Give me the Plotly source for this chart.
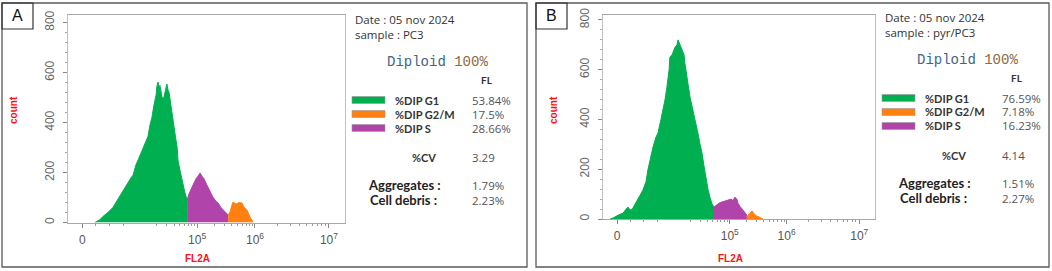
import math
import plotly.graph_objects as go

W, H = 1052, 271

# ---------------- data ----------------
# x in instrument channel units (0..1000 across the plot), y = count
A_G1_ch = [97, 116, 126, 144, 162, 181, 199, 217, 227, 235, 245, 253, 260, 271, 282, 289, 296, 303, 310, 318, 321, 325, 329, 332, 339, 343, 347, 354, 357, 361, 365, 372, 379, 386, 394, 397, 404, 412, 415, 422, 430]
A_G1_cnt = [0, 12, 24, 40, 60, 95, 128, 165, 178, 190, 230, 250, 268, 300, 325, 345, 390, 420, 468, 510, 545, 562, 540, 548, 505, 490, 505, 535, 554, 530, 520, 465, 420, 358, 300, 250, 210, 170, 150, 120, 90]
A_S_ch = [430, 437, 448, 455, 462, 469, 477, 484, 491, 498, 505, 513, 523, 534, 542, 552, 560, 570, 578]
A_S_cnt = [90, 115, 142, 160, 175, 185, 198, 185, 175, 158, 142, 120, 102, 85, 78, 60, 50, 38, 30]
A_G2_ch = [578, 585, 592, 596, 603, 610, 617, 628, 635, 646, 657, 668]
A_G2_cnt = [30, 42, 70, 82, 76, 74, 80, 78, 62, 50, 22, 2]

B_G1_ch = [26, 37, 55, 74, 85, 92, 99, 107, 118, 125, 136, 147, 158, 165, 173, 184, 195, 202, 213, 221, 228, 235, 243, 246, 254, 265, 272, 276, 283, 290, 298, 301, 309, 312, 320, 331, 342, 349, 357, 364, 371, 375, 386, 393, 401, 408]
B_G1_cnt = [0, 4, 15, 24, 40, 48, 36, 38, 60, 76, 95, 117, 150, 197, 240, 290, 330, 345, 400, 438, 480, 530, 600, 651, 660, 691, 700, 720, 700, 680, 660, 627, 580, 547, 490, 438, 390, 345, 300, 265, 215, 185, 120, 88, 60, 48]
B_S_ch = [408, 419, 430, 437, 449, 460, 471, 478, 485, 493, 496, 504, 515, 522, 529]
B_S_cnt = [48, 58, 66, 68, 72, 76, 80, 74, 88, 78, 64, 50, 36, 24, 16]
B_G2_ch = [529, 537, 544, 548, 555, 562, 570, 577, 588]
B_G2_cnt = [10, 20, 30, 32, 22, 14, 10, 6, 0]

x_tick_vals = [52, 466, 675, 942]
x_tick_text = ["0", "10<sup>5</sup>", "10<sup>6</sup>", "10<sup>7</sup>"]
y_tick_vals = [0, 200, 400, 600, 800]

phase_labels = ["%DIP G1", "%DIP G2/M", "%DIP S"]
A_phase_vals = ["53.84%", "17.5%", "28.66%"]
B_phase_vals = ["76.59%", "7.18%", "16.23%"]
A_cv, B_cv = "3.29", "4.14"
A_aggr, A_debris = "1.79%", "2.23%"
B_aggr, B_debris = "1.51%", "2.27%"
A_sample, B_sample = "PC3", "pyr/PC3"

GREEN = "#00b050"
ORANGE = "#ff8010"
PURPLE = "#b044aa"

# ---------------- helpers ----------------
def px(x):
    return x / W

def py(y):
    return 1 - y / H

# minor ticks (log-like)
minor_vals = []
for k in range(2, 10):
    minor_vals.append(257 + (466 - 257) * math.log10(k))
    minor_vals.append(466 + (675 - 466) * math.log10(k))
    minor_vals.append(675 + (942 - 675) * math.log10(k))
minor_vals += [100, 150, 200]

fig = go.Figure()

def add_hist(xs, ys, color, xa, ya):
    fig.add_trace(go.Scatter(x=xs, y=ys, mode="lines", fill="tozeroy",
                             fillcolor=color, line=dict(color=color, width=1),
                             xaxis=xa, yaxis=ya, hoverinfo="skip"))

add_hist(A_G1_ch, A_G1_cnt, GREEN, "x", "y")
add_hist(A_S_ch, A_S_cnt, PURPLE, "x", "y")
add_hist(A_G2_ch, A_G2_cnt, ORANGE, "x", "y")
add_hist(B_G1_ch, B_G1_cnt, GREEN, "x2", "y2")
add_hist(B_S_ch, B_S_cnt, PURPLE, "x2", "y2")
add_hist(B_G2_ch, B_G2_cnt, ORANGE, "x2", "y2")

def xaxis_cfg(x0, x1, anchor):
    return dict(domain=[px(x0), px(x1)], range=[0, 1000], tickmode="array",
                anchor=anchor, automargin=False,
                tickvals=x_tick_vals, ticktext=x_tick_text, ticks="outside",
                ticklen=4, tickcolor="#888888", showgrid=False, zeroline=False,
                showline=True, linecolor="#a8a8a8", linewidth=1, mirror=True,
                tickfont=dict(family="Liberation Sans, Arial", size=12, color="#555555"),
                ticklabelstandoff=2,
                minor=dict(tickmode="array", tickvals=minor_vals, ticks="outside",
                           ticklen=2, tickcolor="#999999"),
                fixedrange=True)

def yaxis_cfg(y0, y1, top, anchor):
    return dict(domain=[py(y0), py(y1)], range=[0, top], tickmode="array",
                anchor=anchor, automargin=False,
                tickvals=y_tick_vals, ticks="outside", ticklen=4, tickcolor="#888888",
                tickangle=-90, showgrid=False, zeroline=False, showline=True,
                linecolor="#c0c0c0", linewidth=1, mirror=True,
                tickfont=dict(family="Liberation Sans, Arial", size=12, color="#666666"),
                ticklabelstandoff=4,
                minor=dict(dtick=40, ticks="outside", ticklen=2, tickcolor="#aaaaaa"),
                fixedrange=True)

shapes = []
annotations = []

def rect(x0, y0, x1, y1, line="#555555", fill=None, lw=1.2):
    shapes.append(dict(type="rect", xref="paper", yref="paper",
                       x0=px(x0), x1=px(x1), y0=py(y1), y1=py(y0),
                       line=dict(color=line, width=lw),
                       fillcolor=fill if fill else "rgba(0,0,0,0)", layer="above"))

def text(x, y, s, size=11, color="#333333", family="Open Sans, Arial",
         anchor="left", angle=0, align="left"):
    annotations.append(dict(x=px(x), y=py(y), xref="paper", yref="paper",
                            text=s, showarrow=False, xanchor=anchor, yanchor="middle",
                            textangle=angle, borderpad=0, align=align,
                            font=dict(size=size, color=color, family=family)))

def panel(ox, right, letter, plot_x1, sample, vals, cv, aggr, debris, dx, d,
          count_x, fl_x):
    rect(ox, 3, right, 267, line="#5a5a5a", lw=1.3)
    rect(ox, 3, ox + 31, 29, line="#333333", lw=1.2)
    text(ox + 15.5, 16, letter, size=16, color="#111111", family="Liberation Sans, Arial",
         anchor="center")
    text(count_x, 110, "<b>count</b>", size=10, color="#ff1010",
         family="Liberation Sans, Arial", anchor="center", angle=-90)
    text(fl_x, 258, "<b>FL2A</b>", size=10, color="#ff1010",
         family="Liberation Sans, Arial", anchor="center")
    tx = plot_x1 + dx
    vx = tx + 117
    text(tx, 26.5 + d, "Date : 05 nov 2024<br>sample : " + sample, size=11.5,
         color="#333333")
    text(tx + 83, 62 + d,
         "<span style='color:#3d6688'>Diploid</span> <span style='color:#8a6a48'>100%</span>",
         size=14, family="Liberation Mono, Courier New", anchor="center")
    text(tx + 133, 80 + d, "<b>FL</b>", size=10, color="#333333", family="Lato, Arial",
         anchor="center")
    colors = [GREEN, ORANGE, PURPLE]
    for i in range(3):
        yy = 100 + 14 * i + d
        rect(tx - 2, yy - 3.5, tx + 31, yy + 3.5, line="#999999", fill=colors[i], lw=0.6)
        text(tx + 40, yy, "<b>" + phase_labels[i] + "</b>", size=11, color="#333333",
             family="Lato, Arial")
        text(vx, yy, vals[i], size=11.5, color="#555555")
    text(tx + 57, 157 + d, "<b>%CV</b>", size=11, color="#333333", family="Lato, Arial")
    text(vx, 157 + d, cv, size=11.5, color="#555555")
    text(tx + 13, 185 + d, "<b>Aggregates :</b>", size=13, color="#222222",
         family="Lato, Arial")
    text(tx + 15, 200 + d, "<b>Cell debris :</b>", size=13, color="#222222",
         family="Lato, Arial")
    text(vx, 185 + d, aggr, size=11.5, color="#555555")
    text(vx, 200 + d, debris, size=11.5, color="#555555")

panel(2, 527, "A", 345, A_sample, A_phase_vals, A_cv, A_aggr, A_debris, 9, 0, 13, 197)
panel(536, 1049, "B", 875, B_sample, B_phase_vals, B_cv, B_aggr, B_debris, 9, -2, 553, 730)

fig.update_layout(
    width=W, height=H, margin=dict(l=0, r=0, t=0, b=0, pad=0, autoexpand=False),
    paper_bgcolor="white", plot_bgcolor="white", showlegend=False,
    xaxis=xaxis_cfg(68, 345, "y"), yaxis=yaxis_cfg(222.5, 15, 830, "x"),
    xaxis2=xaxis_cfg(603, 875, "y2"), yaxis2=yaxis_cfg(219, 15, 820, "x2"),
    shapes=shapes, annotations=annotations,
)

fig.write_html("out.html", config={"displayModeBar": False},
               post_script="document.body.style.margin='0px';document.body.style.padding='0px';")
